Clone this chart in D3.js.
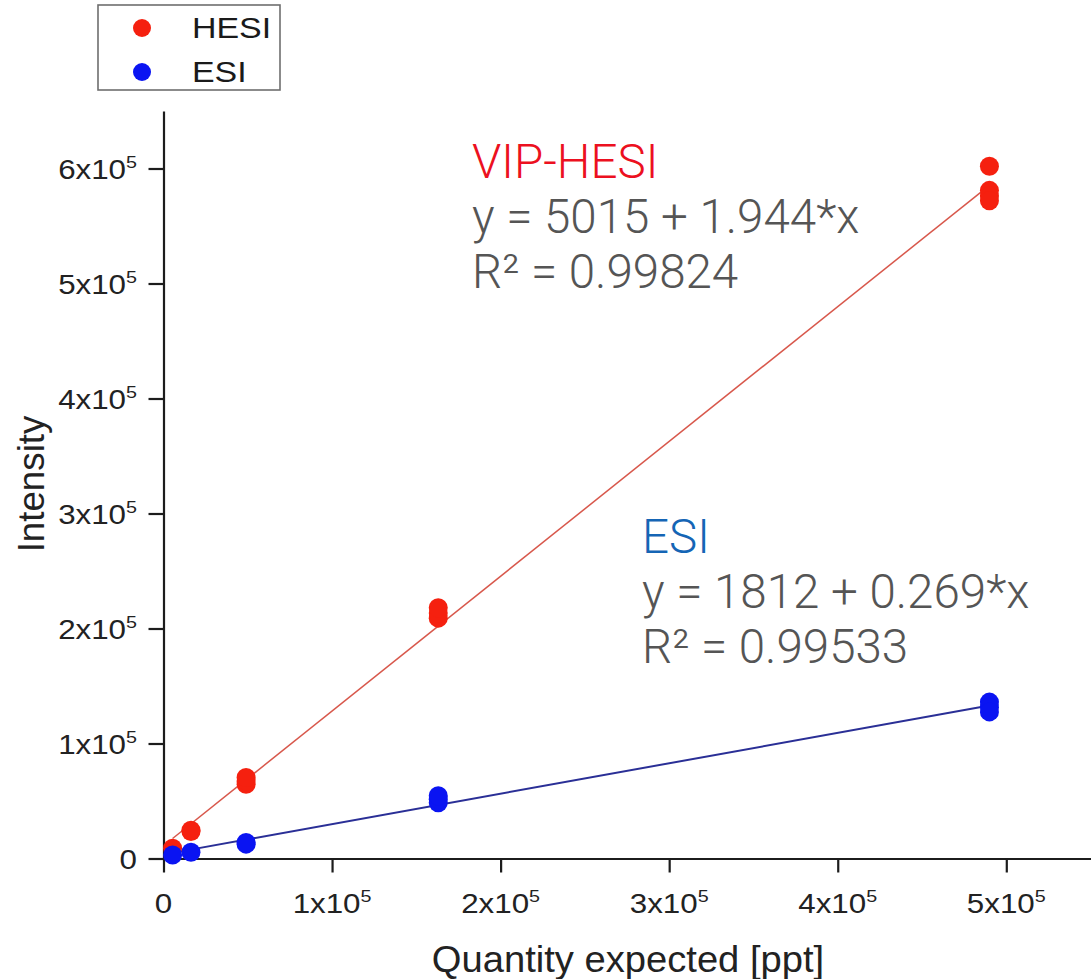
<!DOCTYPE html>
<html>
<head>
<meta charset="utf-8">
<script src="https://cdn.jsdelivr.net/npm/d3@7/dist/d3.min.js"></script>
<style>
  html, body { margin: 0; padding: 0; background: #fff; }
  svg { display: block; }
</style>
</head>
<body>
<svg id="chart" width="1091" height="979"></svg>
<script>
// Calibration series: expected quantity [ppt] vs measured intensity
const hesiX = [5400, 16300, 16300, 49000, 49000, 49000, 163000, 163000, 163000, 490000, 490000, 490000, 490000];
const hesiY = [9000, 23500, 24500, 64500, 67500, 70500, 209000, 213500, 218000, 602000, 581000, 576000, 572000];
const esiX  = [5400, 16300, 49000, 49000, 163000, 163000, 163000, 490000, 490000, 490000];
const esiY  = [3000, 5400, 12500, 14000, 48500, 51500, 54500, 136000, 131500, 127500];

const seriesNames = ["HESI", "ESI"];
const seriesColors = ["#f5200f", "#0a14f2"];
const fitColors = ["#d8584c", "#2a2f96"];

const xTicks = [0, 100000, 200000, 300000, 400000, 500000];
const yTicks = [0, 100000, 200000, 300000, 400000, 500000, 600000];

const annotations = [
  { title: "VIP-HESI", color: "#ec1020", lines: ["y = 5015 + 1.944*x", "R\u00b2 = 0.99824"] },
  { title: "ESI", color: "#1565b5", lines: ["y = 1812 + 0.269*x", "R\u00b2 = 0.99533"] }
];

const svg = d3.select("#chart");

const x = d3.scaleLinear().domain([0, 555000]).range([163.5, 1099]);
const y = d3.scaleLinear().domain([0, 650000]).range([858.5, 111]);

const axisColor = "#1c1c1c";
const tickFont = "'Liberation Sans', Arial, sans-serif";

// least-squares straight line through a series
function linFit(xs, ys) {
  const mx = d3.mean(xs), my = d3.mean(ys);
  let sxy = 0, sxx = 0;
  xs.forEach((v, i) => { sxy += (v - mx) * (ys[i] - my); sxx += (v - mx) * (v - mx); });
  const b = sxy / sxx;
  return { a: my - b * mx, b };
}

// ---- axes ----
const gx = svg.append("g").attr("transform", `translate(0,${y(0)})`);
gx.call(d3.axisBottom(x).tickValues(d3.range(50000, 560000, 100000)).tickSize(7).tickSizeOuter(0).tickFormat(""));
gx.call(d3.axisBottom(x).tickValues(xTicks).tickSize(14).tickSizeOuter(0).tickFormat(""));

const gy = svg.append("g").attr("transform", `translate(${x(0)},0)`);
gy.call(d3.axisLeft(y).tickValues(d3.range(50000, 650000, 100000)).tickSize(7).tickSizeOuter(0).tickFormat(""));
gy.call(d3.axisLeft(y).tickValues(yTicks).tickSize(15).tickSizeOuter(0).tickFormat(""));

svg.selectAll(".domain").attr("stroke", axisColor).attr("stroke-width", 2.2);
svg.selectAll(".tick line").attr("stroke", axisColor).attr("stroke-width", 2.2);

// tick labels of the form "n x 10^5"
function sciLabel(sel, v) {
  const t = sel.append("text")
    .attr("font-family", tickFont)
    .attr("font-size", 27)
    .attr("fill", "#222222")
    .attr("transform", "scale(1.16,1)");
  if (v === 0) { t.text("0"); return t; }
  t.append("tspan").text(`${v / 100000}x10`);
  t.append("tspan").attr("font-size", 17).attr("dy", -11).text("5");
  return t;
}

xTicks.forEach(v => {
  const g = svg.append("g").attr("transform", `translate(${x(v)},913)`);
  sciLabel(g, v).attr("text-anchor", "middle");
});
yTicks.forEach(v => {
  const g = svg.append("g").attr("transform", `translate(137,${y(v) + 10})`);
  sciLabel(g, v).attr("text-anchor", "end");
});

// axis titles
svg.append("text")
  .attr("transform", `translate(44,484) rotate(-90) scale(1.02,1)`)
  .attr("text-anchor", "middle")
  .attr("font-family", tickFont).attr("font-size", 36).attr("fill", "#222222")
  .text("Intensity");
svg.append("text")
  .attr("transform", `translate(628,972) scale(1.06,1)`)
  .attr("text-anchor", "middle")
  .attr("font-family", tickFont).attr("font-size", 36).attr("fill", "#222222")
  .text("Quantity expected [ppt]");

// ---- fit lines and points ----
const series = [
  { xs: hesiX, ys: hesiY },
  { xs: esiX, ys: esiY }
];

series.forEach((s, i) => {
  const f = linFit(s.xs, s.ys);
  const x0 = d3.min(s.xs), x1 = d3.max(s.xs);
  svg.append("line")
    .attr("x1", x(x0)).attr("y1", y(f.a + f.b * x0))
    .attr("x2", x(x1)).attr("y2", y(f.a + f.b * x1))
    .attr("stroke", fitColors[i]).attr("stroke-width", i === 0 ? 1.5 : 2);
});

series.forEach((s, i) => {
  svg.append("g").selectAll("circle")
    .data(s.xs.map((v, k) => [v, s.ys[k]]))
    .join("circle")
    .attr("cx", d => x(d[0]))
    .attr("cy", d => y(d[1]))
    .attr("r", 9.5)
    .attr("fill", seriesColors[i]);
});

// ---- legend ----
const lg = svg.append("g");
lg.append("rect").attr("x", 98).attr("y", 5).attr("width", 182).attr("height", 85)
  .attr("fill", "#fff").attr("stroke", "#6e6e6e").attr("stroke-width", 1.6);
seriesNames.forEach((name, i) => {
  const cy = 28 + i * 44;
  lg.append("circle").attr("cx", 142).attr("cy", cy).attr("r", 9).attr("fill", seriesColors[i]);
  lg.append("text")
    .attr("transform", `translate(192,${cy + 10}) scale(1.17,1)`)
    .attr("font-family", tickFont).attr("font-size", 29).attr("fill", "#1a1a1a")
    .text(name);
});

// ---- regression annotations ----
const annoPos = [[472, 178], [642, 553]];
annotations.forEach((a, i) => {
  const [ax, ay] = annoPos[i];
  const g = svg.append("g")
    .attr("font-family", "Roboto, 'Noto Sans', sans-serif")
    .attr("font-size", 47.5)
    .attr("font-weight", 300);
  g.append("text").attr("x", ax).attr("y", ay).attr("fill", a.color).text(a.title);
  a.lines.forEach((ln, k) => {
    g.append("text").attr("x", ax).attr("y", ay + 55 * (k + 1)).attr("fill", "#555555").text(ln);
  });
});
</script>
</body>
</html>
